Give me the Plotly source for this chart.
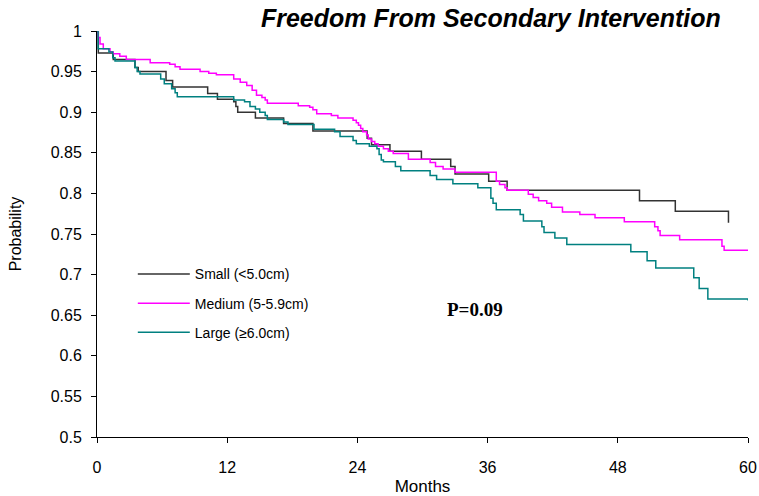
import plotly.graph_objects as go

# Kaplan-Meier style step data (months, probability)
small_months = [0, 0.12, 1.5, 3.5, 3.8, 6.36, 6.97, 10.2, 11.1, 12.6, 12.8, 12.97, 14.6, 17.2, 19.9,
                24.9, 25.3, 27.0, 29.9, 32.6, 33.0, 36.1, 37.8, 50.0, 53.3, 58.2]
small_prob = [1.0, 0.973, 0.965, 0.955, 0.950, 0.939, 0.931, 0.923, 0.916, 0.913, 0.907, 0.900, 0.893,
              0.886, 0.877, 0.868, 0.860, 0.852, 0.842, 0.833, 0.824, 0.815, 0.804, 0.791, 0.778, 0.764]

medium_months = [0, 0.1, 0.28, 0.58, 1.2, 1.5, 2.1, 2.7, 4.9, 6.7, 7.2, 7.65, 9.5, 10.3, 11.0, 12.6,
                 13.2, 13.8, 14.3, 14.7, 15.2, 15.5, 15.7, 18.55, 19.6, 19.9, 20.25, 21.6, 22.2,
                 23.6, 23.9, 24.1, 24.3, 24.5, 24.85, 25.0, 25.3, 25.6, 25.9, 26.4, 26.85, 27.3,
                 28.7, 30.7, 31.2, 31.9, 33.0, 36.8, 37.1, 37.6, 37.8, 39.75, 40.2, 40.7, 41.45,
                 41.9, 42.9, 44.5, 45.9, 48.6, 51.4, 51.7, 51.9, 53.7, 57.6, 57.8, 60]
medium_prob = [1.0, 0.992, 0.984, 0.978, 0.974, 0.972, 0.969, 0.965, 0.961, 0.959, 0.956, 0.953, 0.950,
               0.948, 0.946, 0.941, 0.937, 0.933, 0.927, 0.921, 0.918, 0.915, 0.911, 0.908, 0.906,
               0.903, 0.898, 0.896, 0.893, 0.890, 0.887, 0.884, 0.880, 0.876, 0.872, 0.867, 0.864,
               0.861, 0.858, 0.855, 0.852, 0.849, 0.842, 0.838, 0.833, 0.830, 0.826, 0.815, 0.811,
               0.807, 0.804, 0.799, 0.795, 0.791, 0.788, 0.783, 0.777, 0.774, 0.770, 0.765, 0.759,
               0.754, 0.748, 0.743, 0.735, 0.730, 0.729]

large_months = [0, 0.1, 1.1, 1.45, 1.66, 3.5, 3.7, 3.96, 5.87, 6.2, 6.88, 7.2, 7.4, 12.6, 13.6, 14.1,
                14.6, 15.0, 15.5, 15.7, 17.2, 17.6, 20.0, 21.9, 22.4, 23.6, 23.9, 25.1, 25.8, 26.0,
                26.2, 26.4, 27.5, 28.0, 30.7, 31.3, 32.8, 35.1, 36.3, 36.5, 36.8, 39.0, 39.3, 41.0,
                41.2, 42.2, 43.3, 49.2, 50.7, 51.5, 55.0, 55.5, 56.3, 60]
large_prob = [1.0, 0.978, 0.974, 0.967, 0.963, 0.955, 0.950, 0.947, 0.941, 0.935, 0.929, 0.924, 0.919,
              0.915, 0.913, 0.907, 0.904, 0.900, 0.896, 0.891, 0.888, 0.885, 0.879, 0.876, 0.870,
              0.865, 0.861, 0.858, 0.855, 0.848, 0.841, 0.839, 0.833, 0.828, 0.822, 0.817, 0.812,
              0.807, 0.794, 0.788, 0.780, 0.774, 0.766, 0.759, 0.752, 0.745, 0.737, 0.728, 0.717,
              0.708, 0.696, 0.683, 0.670, 0.668]

series_names = ["Small (<5.0cm)", "Medium (5-5.9cm)", "Large (\u22656.0cm)"]
series_colors = ["#333333", "#FF00FF", "#008080"]

x_ticks = [0, 12, 24, 36, 48, 60]
y_ticks = [0.5, 0.55, 0.6, 0.65, 0.7, 0.75, 0.8, 0.85, 0.9, 0.95, 1]
y_tick_text = ["0.5", "0.55", "0.6", "0.65", "0.7", "0.75", "0.8", "0.85", "0.9", "0.95", "1"]

fig = go.Figure()
for i, (xs, ys) in enumerate([(small_months, small_prob), (medium_months, medium_prob),
                              (large_months, large_prob)]):
    fig.add_trace(go.Scatter(
        x=xs, y=ys, mode="lines", line=dict(shape="hv", color=series_colors[i], width=1.5),
        name=series_names[i], legendgroup=f"g{i}"))

font_family = "Liberation Sans, Arial, sans-serif"
fig.update_layout(
    width=759, height=496,
    margin=dict(l=97, r=11, t=31, b=59),
    paper_bgcolor="white", plot_bgcolor="white",
    font=dict(family=font_family, size=16, color="black"),
    title=dict(text="Freedom From Secondary Intervention",
               font=dict(family=font_family, size=25, color="black", weight="bold", style="italic"),
               x=0.605, xref="paper", xanchor="center", y=0.963, yref="container", yanchor="middle"),
    legend=dict(x=0.055, y=0.44, xanchor="left", yanchor="top", bgcolor="rgba(0,0,0,0)",
                font=dict(family=font_family, size=14, color="black"),
                tracegroupgap=8, itemwidth=52, traceorder="grouped"),
    xaxis=dict(range=[0, 60], tickvals=x_ticks, ticks="outside", ticklen=5, tickcolor="black",
               showline=True, linecolor="black", linewidth=1, showgrid=False, zeroline=False,
               automargin=False, ticklabelstandoff=11,
               title=dict(text="Months", standoff=6, font=dict(size=17)), tickfont=dict(size=16)),
    yaxis=dict(range=[0.5, 1], tickvals=y_ticks, ticktext=y_tick_text, ticks="outside", ticklen=5,
               tickcolor="black", showline=True, linecolor="black", linewidth=1, showgrid=False,
               zeroline=False, automargin=False, ticklabelstandoff=6,
               title=dict(text="Probability", standoff=25, font=dict(size=16)),
               tickfont=dict(size=16)),
)
fig.add_annotation(text="<b>P=0.09</b>", x=0.58, y=0.283, xref="paper", yref="paper",
                   showarrow=False, font=dict(family="Liberation Serif, Times New Roman, serif",
                                              size=19, color="black"))
fig.write_html("out.html", config={"displayModeBar": False},
               post_script="document.body.style.margin='0';document.body.style.overflow='hidden';")
